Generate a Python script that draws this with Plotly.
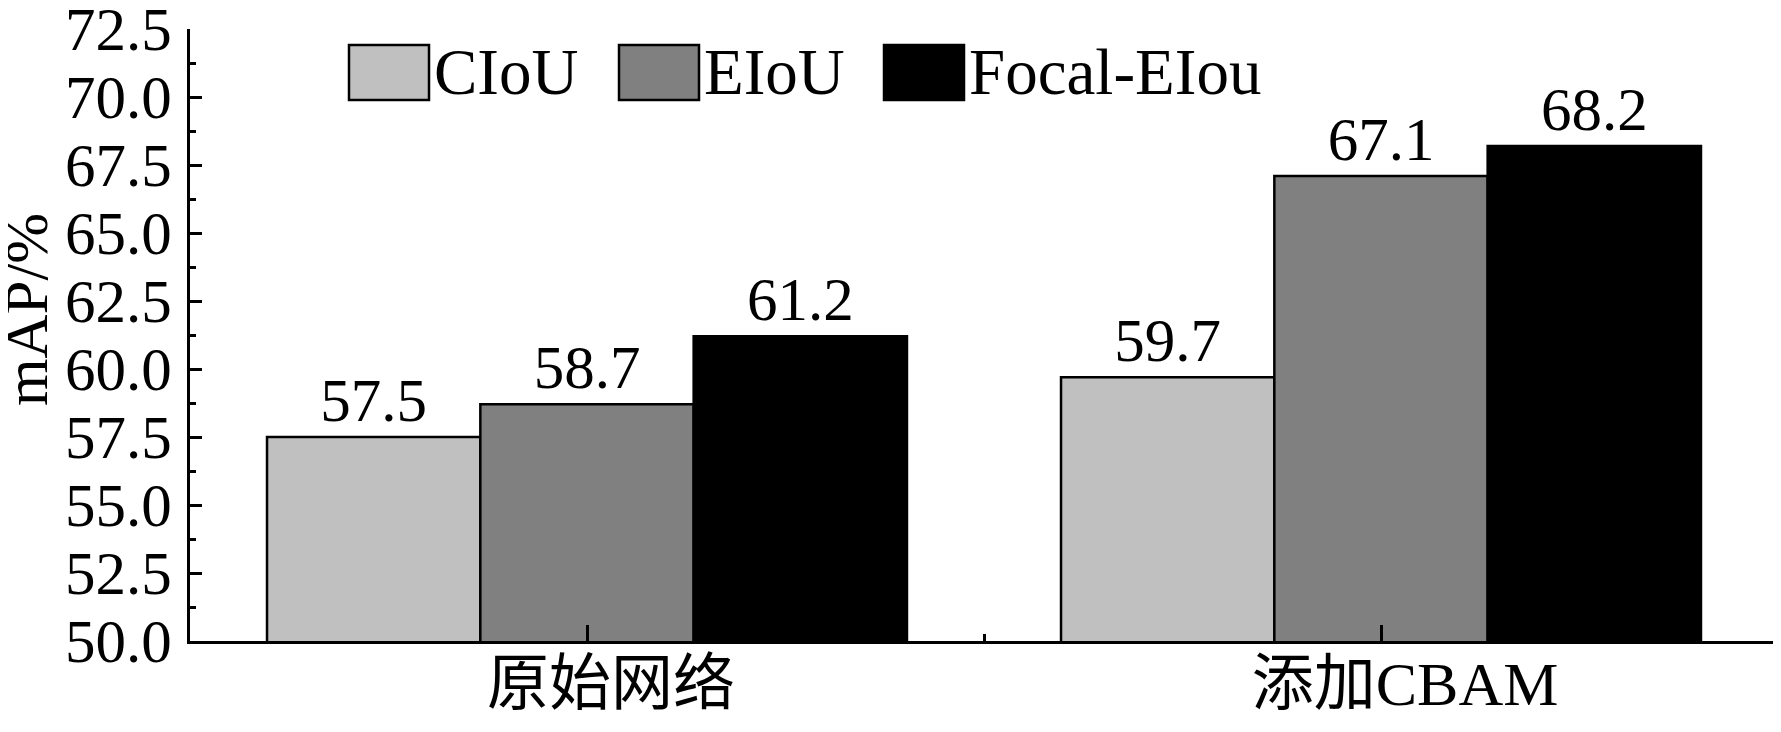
import plotly.graph_objects as go

categories = ["原始网络", "添加CBAM"]
series_names = ["CIoU", "EIoU", "Focal-EIou"]
ciou = [57.5, 59.7]
eiou = [58.7, 67.1]
focal_eiou = [61.2, 68.2]
series_values = [ciou, eiou, focal_eiou]
series_colors = ["#c0c0c0", "#808080", "#000000"]
y_tick_values = [50.0, 52.5, 55.0, 57.5, 60.0, 62.5, 65.0, 67.5, 70.0, 72.5]
y_title = "mAP/%"

FONT = "Liberation Serif, Times New Roman, Noto Sans CJK SC, serif"
OFF = 8  # default page body margin
W, H = 1781 - OFF, 732 - 2 * OFF
# plot area in window pixels: x 190..1778, y 29..641
L = 190 - OFF
T = 29 - OFF
R = W - (1778 - OFF)
B = H - (641 - OFF)
PW, PH = W - L - R, H - T - B

xpos = list(range(len(categories)))

fig = go.Figure()
for name, vals, col in zip(series_names, series_values, series_colors):
    fig.add_trace(go.Bar(
        x=xpos, y=vals, name=name,
        marker=dict(color=col, line=dict(color="black", width=2.5)),
        text=[f"{v:.1f}" for v in vals], textposition="outside",
        textfont=dict(family=FONT, size=61, color="black"),
        cliponaxis=False, showlegend=False,
    ))

# window-pixel -> paper coordinates
def px_to_paper_x(px):
    return (px - OFF - L) / PW

def px_to_paper_y(py):
    return (H - B - (py - OFF)) / PH

# custom legend (large swatches like the reference)
leg_box_left = [349, 619, 884]
box_w, box_top, box_bot = 80, 45, 100
for i, (name, col) in enumerate(zip(series_names, series_colors)):
    x0 = leg_box_left[i]
    fig.add_shape(type="rect", xref="paper", yref="paper",
                  x0=px_to_paper_x(x0), x1=px_to_paper_x(x0 + box_w),
                  y0=px_to_paper_y(box_bot), y1=px_to_paper_y(box_top),
                  fillcolor=col, line=dict(color="black", width=2.5))
    fig.add_annotation(xref="paper", yref="paper",
                       x=px_to_paper_x(x0 + box_w + 3), y=px_to_paper_y((box_top + box_bot) / 2),
                       xanchor="left", yanchor="middle", showarrow=False,
                       text=name, font=dict(family=FONT, size=65, color="black"))

fig.add_annotation(xref="paper", yref="paper",
                   x=px_to_paper_x(26), y=px_to_paper_y(310),
                   xanchor="center", yanchor="middle", textangle=-90, showarrow=False,
                   text=y_title, font=dict(family=FONT, size=61, color="black"))

fig.update_layout(
    template="none",
    width=W, height=H,
    margin=dict(l=L, r=R, t=T, b=B, autoexpand=False),
    paper_bgcolor="white", plot_bgcolor="white",
    barmode="group", bargap=0.194, bargroupgap=0,
    font=dict(family=FONT, color="black"),
    xaxis=dict(
        automargin=False,
        range=[-0.5, len(categories) - 0.5],
        tickmode="array", tickvals=xpos, ticktext=categories,
        ticks="inside", ticklen=16, tickwidth=2.5, tickcolor="black",
        showline=True, linecolor="black", linewidth=3,
        showgrid=False, zeroline=False,
        tickfont=dict(family=FONT, size=62, color="black"),
        ticklabelshift=24, ticklabelstandoff=-13,
        minor=dict(tickmode="array", tickvals=[i - 0.5 for i in range(len(categories) + 1)],
                   ticks="inside", ticklen=7, tickwidth=2.5, tickcolor="black", showgrid=False),
    ),
    yaxis=dict(
        automargin=False,
        range=[50, 72.5],
        tickmode="array", tickvals=y_tick_values, ticktext=[f"{v:.1f}" for v in y_tick_values],
        ticks="inside", ticklen=12, tickwidth=2.5, tickcolor="black",
        showline=True, linecolor="black", linewidth=3,
        showgrid=False, zeroline=False,
        tickfont=dict(family=FONT, size=61, color="black"),
        ticklabelstandoff=3, ticklabeloverflow="allow",
        minor=dict(dtick=1.25, tick0=50, ticks="inside", ticklen=6, tickwidth=2.5, tickcolor="black", showgrid=False),
    ),
)

fig.write_html("out.html")
